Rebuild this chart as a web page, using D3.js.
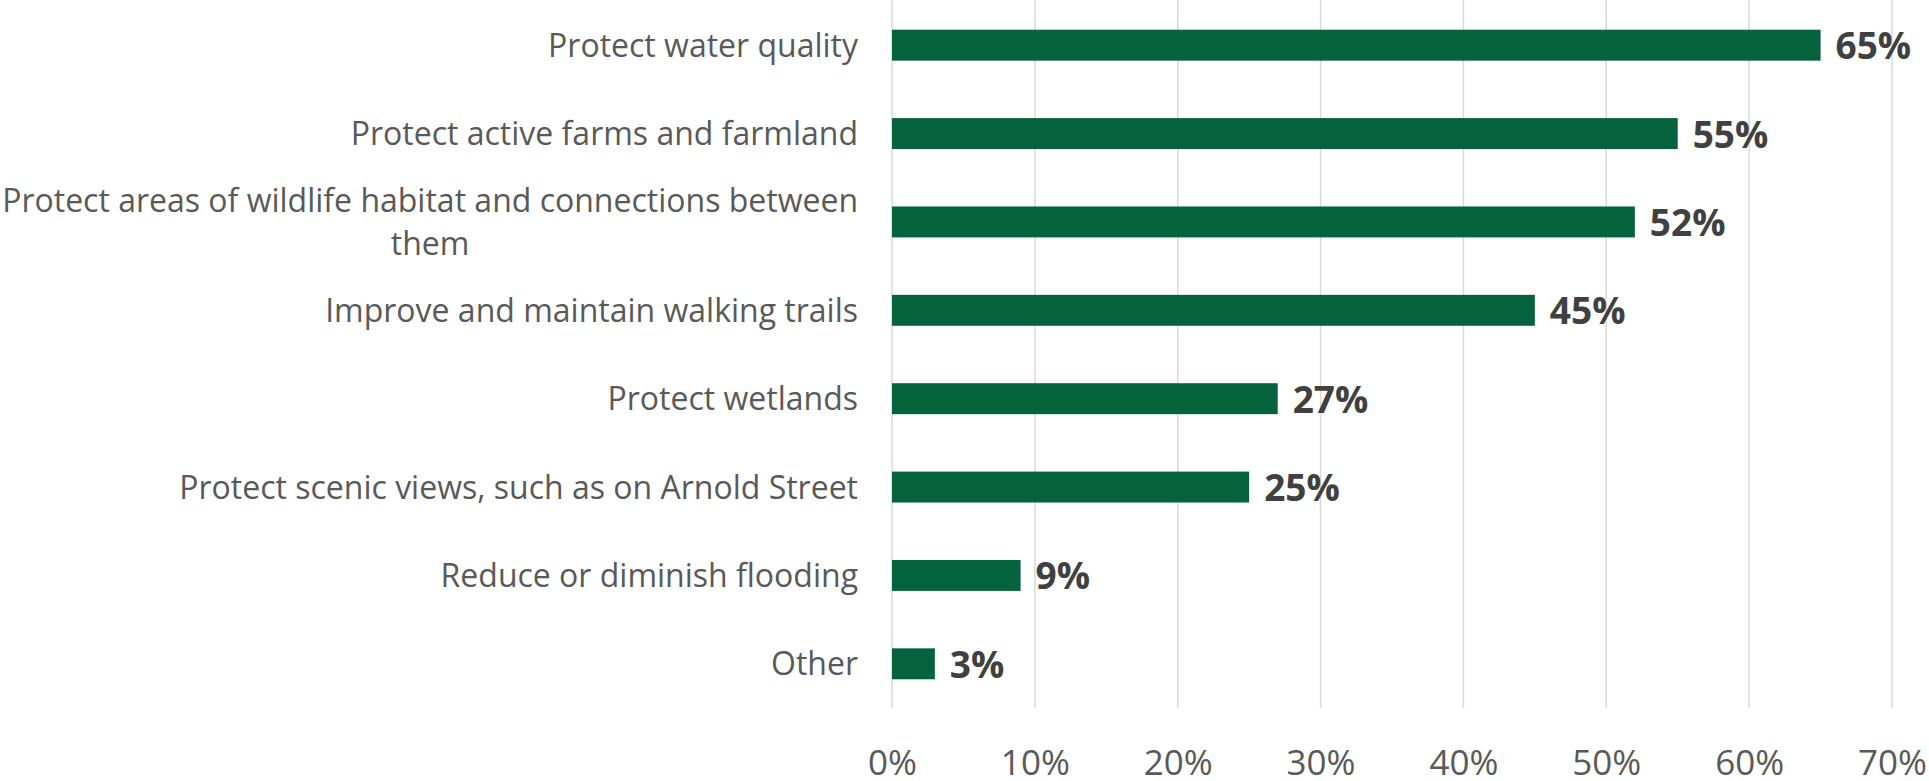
<!DOCTYPE html>
<html>
<head>
<meta charset="utf-8">
<script src="https://cdn.jsdelivr.net/npm/d3@7"></script>
<style>
    body { margin: 0; background: #fff; }
    text { font-family: "Open Sans", sans-serif; }
</style>
</head>
<body>
<div id="chart"></div>
<script>
// chart data
var categories = [
    "Protect water quality",
    "Protect active farms and farmland",
    "Protect areas of wildlife habitat and connections between|them",
    "Improve and maintain walking trails",
    "Protect wetlands",
    "Protect scenic views, such as on Arnold Street",
    "Reduce or diminish flooding",
    "Other"
];
var values = [65, 55, 52, 45, 27, 25, 9, 3];
var tickValues = [0, 10, 20, 30, 40, 50, 60, 70];

const w = 1929;
const h = 781;
const plotLeft = 892;
const plotRight = 1892;
const plotTop = 1;
const plotBottom = 708;

var dataset = categories.map((c, i) => ({ name: c, value: values[i] }));

const svg = d3.select("#chart")
    .append("svg")
    .attr("width", w)
    .attr("height", h);

const xScale = d3.scaleLinear()
    .domain([0, 70])
    .range([plotLeft, plotRight]);

const yScale = d3.scaleBand()
    .domain(categories)
    .range([plotTop, plotBottom])
    .paddingInner(0.65)
    .paddingOuter(0.325);

// gridlines
svg.append("g")
    .selectAll("line")
    .data(tickValues)
    .enter()
    .append("line")
    .attr("x1", (d) => xScale(d))
    .attr("x2", (d) => xScale(d))
    .attr("y1", 0)
    .attr("y2", plotBottom)
    .attr("stroke", "#d9d9d9")
    .attr("stroke-width", 1.5);

// x axis labels
const xAxis = d3.axisBottom(xScale)
    .tickValues(tickValues)
    .tickFormat((d) => d + "%")
    .tickSize(0)
    .tickPadding(0);

svg.append("g")
    .attr("id", "x-axis")
    .attr("transform", "translate(0," + plotBottom + ")")
    .call(xAxis)
    .call((g) => g.select(".domain").remove())
    .selectAll("text")
    .attr("dy", null)
    .attr("y", 67)
    .style("font-size", "35px")
    .style("font-family", "'Open Sans', sans-serif")
    .attr("fill", "#595959");

// bars
svg.selectAll("rect.bar")
    .data(dataset)
    .enter()
    .append("rect")
    .attr("class", "bar")
    .attr("x", xScale(0))
    .attr("y", (d) => yScale(d.name))
    .attr("width", (d) => xScale(d.value) - xScale(0))
    .attr("height", yScale.bandwidth())
    .attr("fill", "#04633c");

// value labels
svg.selectAll("text.val")
    .data(dataset)
    .enter()
    .append("text")
    .attr("class", "val")
    .attr("x", (d) => xScale(d.value) + 15)
    .attr("y", (d) => yScale(d.name) + yScale.bandwidth() / 2)
    .attr("dy", "0.38em")
    .style("font-size", "37px")
    .style("font-weight", "bold")
    .attr("fill", "#404040")
    .text((d) => d.value + "%");

// category labels
const labelRight = plotLeft - 34;
const lineHeight = 43;
dataset.forEach((d) => {
    var lines = d.name.split("|");
    var cy = yScale(d.name) + yScale.bandwidth() / 2;
    var g = svg.append("g");
    var texts = lines.map((line, i) => g.append("text")
        .attr("y", cy + (i - (lines.length - 1) / 2) * lineHeight)
        .attr("dy", "0.36em")
        .style("font-size", "32px")
        .attr("fill", "#595959")
        .text(line));
    if (lines.length === 1) {
        texts[0].attr("x", labelRight).attr("text-anchor", "end");
    } else {
        var maxW = d3.max(texts, (t) => t.node().getComputedTextLength());
        texts.forEach((t) => t.attr("x", labelRight - maxW / 2).attr("text-anchor", "middle"));
    }
});
</script>
</body>
</html>
